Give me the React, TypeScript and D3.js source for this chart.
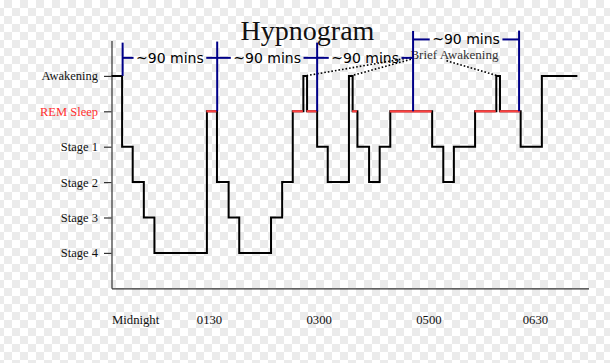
import * as d3 from "d3";
import React from "react";

// sleep stages, index = level on the y axis
const stageLabels = ["Stage 4", "Stage 3", "Stage 2", "Stage 1", "REM Sleep", "Awakening"];

// hypnogram steps: x where each stage starts (plot units) and the stage level
const stepStarts = [
  0, 1.0, 2.0, 3.05, 4.05, 9.0, 9.95, 11.05, 12.05, 15.05, 16.1, 17.1, 18.1, 18.45,
  19.4, 20.4, 22.4, 22.75, 23.2, 24.3, 25.3, 26.3, 30.25, 31.3, 32.3, 34.3, 36.3,
  36.65, 38.6, 40.6,
];
const stepLevels = [
  5, 3, 2, 1, 0, 4, 2, 1, 0, 1, 2, 4, 5, 4, 3, 2, 5, 4, 3, 2, 3, 4, 3, 2, 3, 4, 5, 4,
  3, 5,
];
const stepEnd = 43.95;

const timeLabels = ["Midnight", "0130", "0300", "0500", "0630"];
const timePositions = [0, 8, 18.35, 28.7, 38.75];

// ~90 min cycle markers
const cycleMarks = [1.05, 9.97, 19.4, 28.45, 38.45];
const cycleMarkTops = [5.94, 5.97, 5.94, 6.27, 6.28];
const cycleMarkBases = [5, 4, 4, 4, 4];
const bracketHeights = [5.51, 5.51, 5.51, 6.03];
const bracketText = "~90 mins";

// brief awakenings annotation
const briefSpikes = [18.27, 22.58, 36.47];
const briefFromX = [28.25, 28.25, 31.6];
const briefFromY = [5.52, 5.47, 5.43];

const W = 610;
const H = 363;

const App: React.FC = () => {
  const ref = React.useRef<SVGSVGElement>(null);

  React.useEffect(() => {
    const svg = d3.select(ref.current);
    svg.selectAll("*").remove();

    const x = d3.scaleLinear().domain([0, 45]).range([111.5, 588.5]);
    const y = d3.scaleLinear().domain([-1, 6]).range([288.3, 40.5]);

    // transparent-style checkerboard background
    const defs = svg.append("defs");
    const pat = defs
      .append("pattern")
      .attr("id", "checker")
      .attr("patternUnits", "userSpaceOnUse")
      .attr("x", 4)
      .attr("y", 0)
      .attr("width", 16)
      .attr("height", 16);
    pat.append("rect").attr("width", 16).attr("height", 16).attr("fill", "#ffffff");
    pat.append("rect").attr("width", 8).attr("height", 8).attr("fill", "#ebebeb");
    pat.append("rect").attr("x", 8).attr("y", 8).attr("width", 8).attr("height", 8).attr("fill", "#ebebeb");
    svg.append("rect").attr("width", W).attr("height", H).attr("fill", "url(#checker)");

    const serif = "'Liberation Serif', 'DejaVu Serif', serif";

    // y axis
    const yAxis = svg
      .append("g")
      .attr("transform", `translate(${x(0)},0)`)
      .call(
        d3
          .axisLeft(y)
          .tickValues([0, 1, 2, 3, 4, 5])
          .tickFormat((d: any) => stageLabels[d])
          .tickSize(7.5)
          .tickSizeOuter(0)
          .tickPadding(6)
      );
    yAxis.selectAll("path,line").attr("stroke", "#333").attr("stroke-width", 1.2);
    yAxis
      .selectAll("text")
      .attr("font-family", serif)
      .attr("font-size", 12.5)
      .attr("fill", (d: any) => (d === 4 ? "#ff3030" : "#111"));

    // x axis
    const xAxis = svg
      .append("g")
      .attr("transform", `translate(0,${y(-1)})`)
      .call(
        d3
          .axisBottom(x)
          .tickValues(timePositions)
          .tickFormat((d: any, i: number) => timeLabels[i])
          .tickSize(0)
          .tickSizeOuter(0)
          .tickPadding(26.8)
      );
    xAxis.select("path").attr("stroke", "#333").attr("stroke-width", 1.2);
    xAxis
      .selectAll("text")
      .attr("text-anchor", "start")
      .attr("font-family", serif)
      .attr("font-size", 12.7)
      .attr("fill", "#111");

    // title
    svg
      .append("text")
      .attr("x", 307.5)
      .attr("y", 40)
      .attr("text-anchor", "middle")
      .attr("font-family", serif)
      .attr("font-size", 28)
      .attr("fill", "#111")
      .text("Hypnogram");

    // hypnogram step line
    const pts: [number, number][] = stepStarts.map((s, i) => [s, stepLevels[i]]);
    pts.push([stepEnd, stepLevels[stepLevels.length - 1]]);
    const line = d3
      .line<[number, number]>()
      .x((d) => x(d[0]))
      .y((d) => y(d[1]))
      .curve(d3.curveStepAfter);
    svg
      .append("path")
      .attr("d", line(pts))
      .attr("fill", "none")
      .attr("stroke", "#000")
      .attr("stroke-width", 2);

    // REM segments in red
    stepStarts.forEach((s, i) => {
      if (stepLevels[i] !== 4) return;
      const e = i + 1 < stepStarts.length ? stepStarts[i + 1] : stepEnd;
      svg
        .append("line")
        .attr("x1", x(s) - 0.5)
        .attr("x2", x(e) - 0.5)
        .attr("y1", y(4))
        .attr("y2", y(4))
        .attr("stroke", "#ff4040")
        .attr("stroke-width", 2.2);
    });

    // dotted pointers to brief awakenings
    briefSpikes.forEach((sx, i) => {
      svg
        .append("line")
        .attr("x1", x(briefFromX[i]))
        .attr("y1", y(briefFromY[i]))
        .attr("x2", x(sx))
        .attr("y2", y(5))
        .attr("stroke", "#000")
        .attr("stroke-width", 1.6)
        .attr("stroke-dasharray", "1.6,2");
    });
    svg
      .append("text")
      .attr("x", x(28.2))
      .attr("y", y(5.49))
      .attr("font-family", serif)
      .attr("font-size", 13)
      .attr("fill", "#333")
      .text("Brief Awakening");

    // cycle marker verticals
    const blue = "#000088";
    cycleMarks.forEach((cx, i) => {
      svg
        .append("line")
        .attr("x1", x(cx))
        .attr("x2", x(cx))
        .attr("y1", y(cycleMarkTops[i]))
        .attr("y2", y(cycleMarkBases[i]))
        .attr("stroke", blue)
        .attr("stroke-width", 2);
    });

    // ~90 mins brackets
    bracketHeights.forEach((h, i) => {
      const x1 = x(cycleMarks[i]);
      const x2 = x(cycleMarks[i + 1]);
      const yy = y(h);
      const t = svg
        .append("text")
        .attr("x", (x1 + x2) / 2)
        .attr("y", yy)
        .attr("dy", "0.35em")
        .attr("text-anchor", "middle")
        .attr("font-family", "'DejaVu Sans', sans-serif")
        .attr("font-size", 14)
        .attr("fill", "#000")
        .text(bracketText);
      const w = (t.node() as SVGTextElement).getComputedTextLength();
      const tl = (x1 + x2) / 2 - w / 2 - 2.5;
      const tr = (x1 + x2) / 2 + w / 2 + 2.5;
      [
        [x1, tl],
        [tr, x2],
      ].forEach(([a, b]) => {
        svg
          .append("line")
          .attr("x1", a)
          .attr("x2", b)
          .attr("y1", yy)
          .attr("y2", yy)
          .attr("stroke", blue)
          .attr("stroke-width", 2);
      });
    });
  }, []);

  return (
    <svg
      ref={ref}
      width={W}
      height={H}
      style={{ position: "absolute", left: 0, top: 0 }}
    />
  );
};

export default App;
